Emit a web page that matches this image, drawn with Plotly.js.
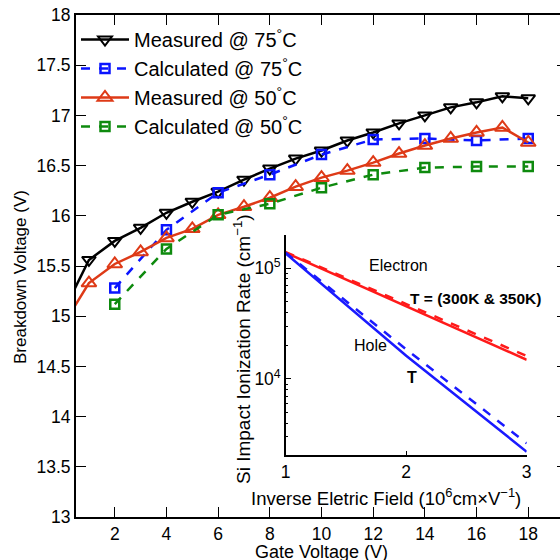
<!DOCTYPE html>
<html><head><meta charset="utf-8">
<script src="https://cdn.plot.ly/plotly-3.0.1.min.js"></script>
<style>html,body{margin:0;padding:0;overflow:hidden;width:560px;height:560px;background:#fff}</style>
</head><body><div id="chart"></div>
<script>
// Main chart data
const gateV = [0,1,2,3,4,5,6,7,8,9,10,11,12,13,14,15,16,17,18];
const meas75 = [15.04,15.56,15.75,15.88,16.03,16.14,16.24,16.36,16.47,16.57,16.65,16.75,16.83,16.92,17.00,17.08,17.13,17.19,17.17];
const meas50 = [14.91,15.33,15.52,15.64,15.78,15.87,16.01,16.09,16.18,16.29,16.38,16.45,16.53,16.62,16.70,16.77,16.83,16.88,16.73];
const calcV = [2,4,6,8,10,12,14,16,18];
const calc75 = [15.28,15.86,16.23,16.41,16.61,16.76,16.77,16.75,16.77];
const calc50 = [15.12,15.67,16.01,16.12,16.28,16.41,16.48,16.49,16.49];
// Inset data
const invField = [1,2,3];
const elec300 = [1.38e5,4.5e4,1.49e4];
const elec350 = [1.40e5,4.75e4,1.61e4];
const hole300 = [1.36e5,1.62e4,2.2e3];
const hole350 = [1.38e5,1.85e4,2.62e3];

const FONT = 'Liberation Sans, Arial, sans-serif';
const W = 567, H = 560, L = 76, R = 0, T = 15, B = 43;
const pw = W - L - R, ph = H - T - B;
const px = x => (x - L) / pw;
const py = y => (H - B - y) / ph;

const traces = [
  {x: gateV, y: meas75, name: 'Measured @ 75<sup>°</sup>C', mode: 'lines+markers', legendgroup: 'a',
   line: {color: '#000000', width: 2.5}, marker: {symbol: 'triangle-down-open', size: 12, color: '#000000', line: {width: 2}}},
  {x: calcV, y: calc75, name: 'Calculated @ 75<sup>°</sup>C', mode: 'lines+markers', legendgroup: 'b',
   line: {color: '#0a14ff', width: 2.5, dash: 'dash'}, marker: {symbol: 'square-open', size: 9, color: '#0a14ff', line: {width: 2.5}}},
  {x: gateV, y: meas50, name: 'Measured @ 50<sup>°</sup>C', mode: 'lines+markers', legendgroup: 'c',
   line: {color: '#de3a17', width: 2.5}, marker: {symbol: 'triangle-up-open', size: 13, color: '#de3a17', line: {width: 2}}},
  {x: calcV, y: calc50, name: 'Calculated @ 50<sup>°</sup>C', mode: 'lines+markers', legendgroup: 'd',
   line: {color: '#0e8a0e', width: 2.5, dash: 'dash'}, marker: {symbol: 'square-open', size: 9, color: '#0e8a0e', line: {width: 2.5}}},
  {x: invField, y: elec350, xaxis: 'x2', yaxis: 'y2', mode: 'lines', showlegend: false,
   line: {color: '#ff1a1a', width: 2.5, dash: 'dash'}},
  {x: invField, y: elec300, xaxis: 'x2', yaxis: 'y2', mode: 'lines', showlegend: false,
   line: {color: '#ff1a1a', width: 2.5}},
  {x: invField, y: hole350, xaxis: 'x2', yaxis: 'y2', mode: 'lines', showlegend: false,
   line: {color: '#1a1aff', width: 2.5, dash: 'dash'}},
  {x: invField, y: hole300, xaxis: 'x2', yaxis: 'y2', mode: 'lines', showlegend: false,
   line: {color: '#1a1aff', width: 2.5}}
];

const ann = (x, y, text, opts) => Object.assign({xref: 'paper', yref: 'paper', x: px(x), y: py(y), text: text,
  showarrow: false, xanchor: 'center', yanchor: 'middle', font: {family: FONT, size: 17, color: '#000'}}, opts || {});

const layout = {
  width: W, height: H,
  margin: {l: L, r: R, t: T, b: B},
  paper_bgcolor: '#fff', plot_bgcolor: 'rgba(0,0,0,0)',
  font: {family: FONT, size: 17, color: '#000'},
  showlegend: true,
  legend: {x: 0.0, y: py(20), xanchor: 'left', yanchor: 'top', bgcolor: 'rgba(0,0,0,0)',
    font: {family: FONT, size: 20, color: '#000'}, itemwidth: 48, tracegroupgap: 4, traceorder: 'normal'},
  xaxis: {range: [0.5, 19.5], tick0: 0, dtick: 2, ticks: 'inside', ticklen: 10, tickcolor: '#000', tickwidth: 1,
    showline: true, linecolor: '#000', linewidth: 2, mirror: 'ticks', showgrid: false, zeroline: false,
    tickfont: {family: FONT, size: 17.5}},
  yaxis: {range: [13, 18], tick0: 13, dtick: 0.5, ticks: 'inside', ticklen: 10, tickcolor: '#000', tickwidth: 1,
    showline: true, linecolor: '#000', linewidth: 2, mirror: 'ticks', showgrid: false, zeroline: false,
    tickfont: {family: FONT, size: 17.5}},
  xaxis2: {domain: [px(285.7), px(526.7)], anchor: 'y2', range: [1, 3], tickvals: [1, 2, 3],
    ticks: 'inside', ticklen: 4, tickcolor: '#000', showline: true, linecolor: '#000', linewidth: 1.5,
    showgrid: false, zeroline: false, tickfont: {family: FONT, size: 17.5}},
  yaxis2: {domain: [py(455), py(235)], anchor: 'x2', type: 'log', range: [3.313, 5.30],
    tickvals: [1e4, 1e5], ticktext: ['10<sup>4</sup>', '10<sup>5</sup>'],
    ticks: 'inside', ticklen: 5, tickcolor: '#000', showline: true, linecolor: '#000', linewidth: 1.5,
    showgrid: false, zeroline: false, tickfont: {family: FONT, size: 17.5},
    minor: {tickvals: [3e3,4e3,5e3,6e3,7e3,8e3,9e3,2e4,3e4,4e4,5e4,6e4,7e4,8e4,9e4,2e5], ticks: 'inside', ticklen: 2.5, tickcolor: '#000', showgrid: false}},
  annotations: [
    ann(321, 552, 'Gate Voltage (V)', {font: {family: FONT, size: 18, color: '#000'}}),
    ann(20, 277, 'Breakdown Voltage (V)', {textangle: -90}),
    ann(386, 497, 'Inverse Eletric Field (10<sup>6</sup>cm×V<sup>−1</sup>)', {font: {family: FONT, size: 18.5, color: '#000'}}),
    ann(242, 349, 'Si Impact Ionization Rate (cm<sup>−1</sup>)', {textangle: -90, font: {family: FONT, size: 19, color: '#000'}}),
    ann(398, 265, 'Electron', {font: {family: FONT, size: 16, color: '#000'}}),
    ann(475, 298, '<b>T = (300K &amp; 350K)</b>', {font: {family: FONT, size: 15.5, color: '#000'}}),
    ann(370, 345, 'Hole', {font: {family: FONT, size: 16, color: '#000'}}),
    ann(412, 377, '<b>T</b>', {font: {family: FONT, size: 16, color: '#000'}})
  ]
};

Plotly.newPlot('chart', traces, layout, {displayModeBar: false, staticPlot: true});
</script>
</body></html>
